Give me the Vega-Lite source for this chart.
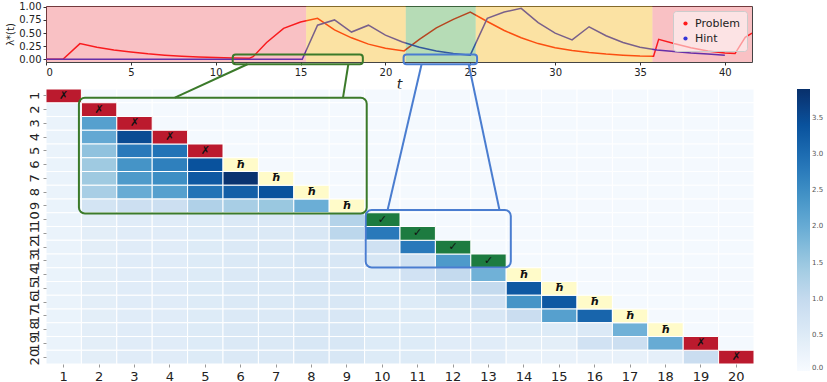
{
"$schema": "https://vega.github.io/schema/vega-lite/v6.json",
"padding": {"left": 5, "top": 1, "right": 2, "bottom": 2},
"config": {"font": "DejaVu Sans", "view": {"stroke": null}},
"spacing": 27,
"bounds": "flush",
"resolve": {"scale": {"x": "independent", "y": "independent", "color": "independent", "stroke": "independent"}, "legend": {"color": "independent", "stroke": "independent"}},
"datasets": {
"lines": [
{"s":"Problem","t":0,"v":0},{"s":"Problem","t":1,"v":0},{"s":"Problem","t":2,"v":0.30},{"s":"Problem","t":3,"v":0.23},{"s":"Problem","t":4,"v":0.18},{"s":"Problem","t":5,"v":0.14},{"s":"Problem","t":6,"v":0.105},{"s":"Problem","t":7,"v":0.08},{"s":"Problem","t":8,"v":0.06},{"s":"Problem","t":9,"v":0.045},{"s":"Problem","t":10,"v":0.035},{"s":"Problem","t":11,"v":0.028},{"s":"Problem","t":12,"v":0.022},{"s":"Problem","t":12.2,"v":0.05},{"s":"Problem","t":13,"v":0.32},{"s":"Problem","t":14,"v":0.59},{"s":"Problem","t":15,"v":0.71},{"s":"Problem","t":16,"v":0.78},{"s":"Problem","t":17,"v":0.56},{"s":"Problem","t":18,"v":0.41},{"s":"Problem","t":19,"v":0.29},{"s":"Problem","t":20,"v":0.21},{"s":"Problem","t":21.1,"v":0.16},{"s":"Problem","t":22,"v":0.38},{"s":"Problem","t":23,"v":0.6},{"s":"Problem","t":24,"v":0.76},{"s":"Problem","t":25,"v":0.9},{"s":"Problem","t":26,"v":0.72},{"s":"Problem","t":27,"v":0.55},{"s":"Problem","t":28,"v":0.41},{"s":"Problem","t":29,"v":0.3},{"s":"Problem","t":30,"v":0.22},{"s":"Problem","t":31,"v":0.17},{"s":"Problem","t":32,"v":0.13},{"s":"Problem","t":33,"v":0.1},{"s":"Problem","t":34,"v":0.08},{"s":"Problem","t":35,"v":0.065},{"s":"Problem","t":35.8,"v":0.06},{"s":"Problem","t":36.1,"v":0.38},{"s":"Problem","t":37,"v":0.3},{"s":"Problem","t":38,"v":0.22},{"s":"Problem","t":39,"v":0.16},{"s":"Problem","t":40,"v":0.12},{"s":"Problem","t":40.6,"v":0.11},{"s":"Problem","t":41.2,"v":0.42},{"s":"Problem","t":41.6,"v":0.5},
{"s":"Hint","t":0,"v":0},{"s":"Hint","t":15.1,"v":0},{"s":"Hint","t":16,"v":0.65},{"s":"Hint","t":17,"v":0.75},{"s":"Hint","t":18,"v":0.52},{"s":"Hint","t":19,"v":0.65},{"s":"Hint","t":20,"v":0.46},{"s":"Hint","t":21,"v":0.33},{"s":"Hint","t":22,"v":0.23},{"s":"Hint","t":23,"v":0.16},{"s":"Hint","t":24,"v":0.11},{"s":"Hint","t":25,"v":0.08},{"s":"Hint","t":26,"v":0.78},{"s":"Hint","t":27,"v":0.9},{"s":"Hint","t":28,"v":0.97},{"s":"Hint","t":29,"v":0.7},{"s":"Hint","t":30,"v":0.5},{"s":"Hint","t":31,"v":0.37},{"s":"Hint","t":32,"v":0.62},{"s":"Hint","t":33,"v":0.45},{"s":"Hint","t":34,"v":0.32},{"s":"Hint","t":35,"v":0.23},{"s":"Hint","t":36,"v":0.18},{"s":"Hint","t":37,"v":0.15},{"s":"Hint","t":38,"v":0.12},{"s":"Hint","t":39,"v":0.1},{"s":"Hint","t":40,"v":0.08}
],
"events": [
{"s":"Problem","t":1},{"s":"Problem","t":12.2},{"s":"Problem","t":13.9},{"s":"Problem","t":14.2},{"s":"Problem","t":15.0},{"s":"Problem","t":21.2},{"s":"Problem","t":22.4},{"s":"Problem","t":23.6},{"s":"Problem","t":24.9},{"s":"Problem","t":35.8},{"s":"Problem","t":40.6},
{"s":"Hint","t":15.35},{"s":"Hint","t":15.5},{"s":"Hint","t":16.0},{"s":"Hint","t":18.0},{"s":"Hint","t":26.05},{"s":"Hint","t":26.7},{"s":"Hint","t":27.5},{"s":"Hint","t":31.9}
],
"spans": [
{"a":0,"b":15.33,"k":"r"},{"a":15.33,"b":21.2,"k":"y"},{"a":21.2,"b":25.32,"k":"g"},{"a":25.32,"b":35.73,"k":"y"},{"a":35.73,"b":41.6,"k":"r"}
],
"tboxes": [
{"a":11.0,"b":18.67,"lo":-0.095,"hi":0.095,"k":"g"},{"a":21.07,"b":25.4,"lo":-0.095,"hi":0.095,"k":"b"}
],
"hboxes": [
{"x1":1.43,"x2":9.56,"y1":1.13,"y2":9.55,"k":"g"},{"x1":9.53,"x2":13.63,"y1":9.3,"y2":13.48,"k":"b"}
],
"hlinks": [
{"x1":6.19,"y1":-1.3,"x2":4.14,"y2":1.13,"k":"g"},{"x1":9.04,"y1":-1.3,"x2":8.89,"y2":1.13,"k":"g"},{"x1":11.11,"y1":-1.3,"x2":10.15,"y2":9.3,"k":"b"},{"x1":12.44,"y1":-1.3,"x2":13.31,"y2":9.3,"k":"b"}
],
"cells": [
{"r":1,"c":1,"k":"✗"},{"r":1,"c":2,"v":0.05},{"r":1,"c":3,"v":0.05},{"r":1,"c":4,"v":0.05},{"r":1,"c":5,"v":0.05},{"r":1,"c":6,"v":0.05},{"r":1,"c":7,"v":0.05},{"r":1,"c":8,"v":0.05},{"r":1,"c":9,"v":0.05},{"r":1,"c":10,"v":0.05},{"r":1,"c":11,"v":0.05},{"r":1,"c":12,"v":0.05},{"r":1,"c":13,"v":0.05},{"r":1,"c":14,"v":0.05},{"r":1,"c":15,"v":0.05},{"r":1,"c":16,"v":0.05},{"r":1,"c":17,"v":0.05},{"r":1,"c":18,"v":0.05},{"r":1,"c":19,"v":0.05},{"r":1,"c":20,"v":0.05},
{"r":2,"c":1,"v":0.25},{"r":2,"c":2,"k":"✗"},{"r":2,"c":3,"v":0.05},{"r":2,"c":4,"v":0.05},{"r":2,"c":5,"v":0.05},{"r":2,"c":6,"v":0.05},{"r":2,"c":7,"v":0.05},{"r":2,"c":8,"v":0.05},{"r":2,"c":9,"v":0.05},{"r":2,"c":10,"v":0.05},{"r":2,"c":11,"v":0.05},{"r":2,"c":12,"v":0.05},{"r":2,"c":13,"v":0.05},{"r":2,"c":14,"v":0.05},{"r":2,"c":15,"v":0.05},{"r":2,"c":16,"v":0.05},{"r":2,"c":17,"v":0.05},{"r":2,"c":18,"v":0.05},{"r":2,"c":19,"v":0.05},{"r":2,"c":20,"v":0.05},
{"r":3,"c":1,"v":0.25},{"r":3,"c":2,"v":2.2},{"r":3,"c":3,"k":"✗"},{"r":3,"c":4,"v":0.05},{"r":3,"c":5,"v":0.05},{"r":3,"c":6,"v":0.05},{"r":3,"c":7,"v":0.05},{"r":3,"c":8,"v":0.05},{"r":3,"c":9,"v":0.05},{"r":3,"c":10,"v":0.05},{"r":3,"c":11,"v":0.05},{"r":3,"c":12,"v":0.05},{"r":3,"c":13,"v":0.05},{"r":3,"c":14,"v":0.05},{"r":3,"c":15,"v":0.05},{"r":3,"c":16,"v":0.05},{"r":3,"c":17,"v":0.05},{"r":3,"c":18,"v":0.05},{"r":3,"c":19,"v":0.05},{"r":3,"c":20,"v":0.05},
{"r":4,"c":1,"v":0.25},{"r":4,"c":2,"v":2.05},{"r":4,"c":3,"v":3.5},{"r":4,"c":4,"k":"✗"},{"r":4,"c":5,"v":0.05},{"r":4,"c":6,"v":0.05},{"r":4,"c":7,"v":0.05},{"r":4,"c":8,"v":0.05},{"r":4,"c":9,"v":0.05},{"r":4,"c":10,"v":0.05},{"r":4,"c":11,"v":0.05},{"r":4,"c":12,"v":0.05},{"r":4,"c":13,"v":0.05},{"r":4,"c":14,"v":0.05},{"r":4,"c":15,"v":0.05},{"r":4,"c":16,"v":0.05},{"r":4,"c":17,"v":0.05},{"r":4,"c":18,"v":0.05},{"r":4,"c":19,"v":0.05},{"r":4,"c":20,"v":0.05},
{"r":5,"c":1,"v":0.25},{"r":5,"c":2,"v":1.6},{"r":5,"c":3,"v":2.8},{"r":5,"c":4,"v":2.9},{"r":5,"c":5,"k":"✗"},{"r":5,"c":6,"v":0.05},{"r":5,"c":7,"v":0.05},{"r":5,"c":8,"v":0.05},{"r":5,"c":9,"v":0.05},{"r":5,"c":10,"v":0.05},{"r":5,"c":11,"v":0.05},{"r":5,"c":12,"v":0.05},{"r":5,"c":13,"v":0.05},{"r":5,"c":14,"v":0.05},{"r":5,"c":15,"v":0.05},{"r":5,"c":16,"v":0.05},{"r":5,"c":17,"v":0.05},{"r":5,"c":18,"v":0.05},{"r":5,"c":19,"v":0.05},{"r":5,"c":20,"v":0.05},
{"r":6,"c":1,"v":0.25},{"r":6,"c":2,"v":1.45},{"r":6,"c":3,"v":2.4},{"r":6,"c":4,"v":2.7},{"r":6,"c":5,"v":3.4},{"r":6,"c":6,"k":"ħ"},{"r":6,"c":7,"v":0.05},{"r":6,"c":8,"v":0.05},{"r":6,"c":9,"v":0.05},{"r":6,"c":10,"v":0.05},{"r":6,"c":11,"v":0.05},{"r":6,"c":12,"v":0.05},{"r":6,"c":13,"v":0.05},{"r":6,"c":14,"v":0.05},{"r":6,"c":15,"v":0.05},{"r":6,"c":16,"v":0.05},{"r":6,"c":17,"v":0.05},{"r":6,"c":18,"v":0.05},{"r":6,"c":19,"v":0.05},{"r":6,"c":20,"v":0.05},
{"r":7,"c":1,"v":0.25},{"r":7,"c":2,"v":1.45},{"r":7,"c":3,"v":2.3},{"r":7,"c":4,"v":2.5},{"r":7,"c":5,"v":3.3},{"r":7,"c":6,"v":3.85},{"r":7,"c":7,"k":"ħ"},{"r":7,"c":8,"v":0.05},{"r":7,"c":9,"v":0.05},{"r":7,"c":10,"v":0.05},{"r":7,"c":11,"v":0.05},{"r":7,"c":12,"v":0.05},{"r":7,"c":13,"v":0.05},{"r":7,"c":14,"v":0.05},{"r":7,"c":15,"v":0.05},{"r":7,"c":16,"v":0.05},{"r":7,"c":17,"v":0.05},{"r":7,"c":18,"v":0.05},{"r":7,"c":19,"v":0.05},{"r":7,"c":20,"v":0.05},
{"r":8,"c":1,"v":0.25},{"r":8,"c":2,"v":1.35},{"r":8,"c":3,"v":2.0},{"r":8,"c":4,"v":2.2},{"r":8,"c":5,"v":2.9},{"r":8,"c":6,"v":3.2},{"r":8,"c":7,"v":3.4},{"r":8,"c":8,"k":"ħ"},{"r":8,"c":9,"v":0.05},{"r":8,"c":10,"v":0.05},{"r":8,"c":11,"v":0.05},{"r":8,"c":12,"v":0.05},{"r":8,"c":13,"v":0.05},{"r":8,"c":14,"v":0.05},{"r":8,"c":15,"v":0.05},{"r":8,"c":16,"v":0.05},{"r":8,"c":17,"v":0.05},{"r":8,"c":18,"v":0.05},{"r":8,"c":19,"v":0.05},{"r":8,"c":20,"v":0.05},
{"r":9,"c":1,"v":0.25},{"r":9,"c":2,"v":0.7},{"r":9,"c":3,"v":0.85},{"r":9,"c":4,"v":0.85},{"r":9,"c":5,"v":1.25},{"r":9,"c":6,"v":1.35},{"r":9,"c":7,"v":1.5},{"r":9,"c":8,"v":1.95},{"r":9,"c":9,"k":"ħ"},{"r":9,"c":10,"v":0.05},{"r":9,"c":11,"v":0.05},{"r":9,"c":12,"v":0.05},{"r":9,"c":13,"v":0.05},{"r":9,"c":14,"v":0.05},{"r":9,"c":15,"v":0.05},{"r":9,"c":16,"v":0.05},{"r":9,"c":17,"v":0.05},{"r":9,"c":18,"v":0.05},{"r":9,"c":19,"v":0.05},{"r":9,"c":20,"v":0.05},
{"r":10,"c":1,"v":0.25},{"r":10,"c":2,"v":0.4},{"r":10,"c":3,"v":0.45},{"r":10,"c":4,"v":0.45},{"r":10,"c":5,"v":0.5},{"r":10,"c":6,"v":0.55},{"r":10,"c":7,"v":0.55},{"r":10,"c":8,"v":0.6},{"r":10,"c":9,"v":1.2},{"r":10,"c":10,"k":"✓"},{"r":10,"c":11,"v":0.05},{"r":10,"c":12,"v":0.05},{"r":10,"c":13,"v":0.05},{"r":10,"c":14,"v":0.05},{"r":10,"c":15,"v":0.05},{"r":10,"c":16,"v":0.05},{"r":10,"c":17,"v":0.05},{"r":10,"c":18,"v":0.05},{"r":10,"c":19,"v":0.05},{"r":10,"c":20,"v":0.05},
{"r":11,"c":1,"v":0.25},{"r":11,"c":2,"v":0.4},{"r":11,"c":3,"v":0.45},{"r":11,"c":4,"v":0.45},{"r":11,"c":5,"v":0.5},{"r":11,"c":6,"v":0.55},{"r":11,"c":7,"v":0.55},{"r":11,"c":8,"v":0.6},{"r":11,"c":9,"v":1.1},{"r":11,"c":10,"v":2.8},{"r":11,"c":11,"k":"✓"},{"r":11,"c":12,"v":0.05},{"r":11,"c":13,"v":0.05},{"r":11,"c":14,"v":0.05},{"r":11,"c":15,"v":0.05},{"r":11,"c":16,"v":0.05},{"r":11,"c":17,"v":0.05},{"r":11,"c":18,"v":0.05},{"r":11,"c":19,"v":0.05},{"r":11,"c":20,"v":0.05},
{"r":12,"c":1,"v":0.25},{"r":12,"c":2,"v":0.4},{"r":12,"c":3,"v":0.45},{"r":12,"c":4,"v":0.45},{"r":12,"c":5,"v":0.5},{"r":12,"c":6,"v":0.55},{"r":12,"c":7,"v":0.55},{"r":12,"c":8,"v":0.6},{"r":12,"c":9,"v":0.6},{"r":12,"c":10,"v":0.8},{"r":12,"c":11,"v":2.8},{"r":12,"c":12,"k":"✓"},{"r":12,"c":13,"v":0.05},{"r":12,"c":14,"v":0.05},{"r":12,"c":15,"v":0.05},{"r":12,"c":16,"v":0.05},{"r":12,"c":17,"v":0.05},{"r":12,"c":18,"v":0.05},{"r":12,"c":19,"v":0.05},{"r":12,"c":20,"v":0.05},
{"r":13,"c":1,"v":0.25},{"r":13,"c":2,"v":0.4},{"r":13,"c":3,"v":0.45},{"r":13,"c":4,"v":0.45},{"r":13,"c":5,"v":0.5},{"r":13,"c":6,"v":0.55},{"r":13,"c":7,"v":0.55},{"r":13,"c":8,"v":0.6},{"r":13,"c":9,"v":0.6},{"r":13,"c":10,"v":0.65},{"r":13,"c":11,"v":0.8},{"r":13,"c":12,"v":2.3},{"r":13,"c":13,"k":"✓"},{"r":13,"c":14,"v":0.05},{"r":13,"c":15,"v":0.05},{"r":13,"c":16,"v":0.05},{"r":13,"c":17,"v":0.05},{"r":13,"c":18,"v":0.05},{"r":13,"c":19,"v":0.05},{"r":13,"c":20,"v":0.05},
{"r":14,"c":1,"v":0.25},{"r":14,"c":2,"v":0.4},{"r":14,"c":3,"v":0.45},{"r":14,"c":4,"v":0.45},{"r":14,"c":5,"v":0.5},{"r":14,"c":6,"v":0.55},{"r":14,"c":7,"v":0.55},{"r":14,"c":8,"v":0.6},{"r":14,"c":9,"v":0.6},{"r":14,"c":10,"v":0.5},{"r":14,"c":11,"v":0.75},{"r":14,"c":12,"v":1.0},{"r":14,"c":13,"v":1.9},{"r":14,"c":14,"k":"ħ"},{"r":14,"c":15,"v":0.05},{"r":14,"c":16,"v":0.05},{"r":14,"c":17,"v":0.05},{"r":14,"c":18,"v":0.05},{"r":14,"c":19,"v":0.05},{"r":14,"c":20,"v":0.05},
{"r":15,"c":1,"v":0.25},{"r":15,"c":2,"v":0.4},{"r":15,"c":3,"v":0.45},{"r":15,"c":4,"v":0.45},{"r":15,"c":5,"v":0.5},{"r":15,"c":6,"v":0.55},{"r":15,"c":7,"v":0.55},{"r":15,"c":8,"v":0.6},{"r":15,"c":9,"v":0.6},{"r":15,"c":10,"v":0.5},{"r":15,"c":11,"v":0.6},{"r":15,"c":12,"v":0.8},{"r":15,"c":13,"v":1.0},{"r":15,"c":14,"v":3.3},{"r":15,"c":15,"k":"ħ"},{"r":15,"c":16,"v":0.05},{"r":15,"c":17,"v":0.05},{"r":15,"c":18,"v":0.05},{"r":15,"c":19,"v":0.05},{"r":15,"c":20,"v":0.05},
{"r":16,"c":1,"v":0.25},{"r":16,"c":2,"v":0.4},{"r":16,"c":3,"v":0.45},{"r":16,"c":4,"v":0.45},{"r":16,"c":5,"v":0.5},{"r":16,"c":6,"v":0.55},{"r":16,"c":7,"v":0.55},{"r":16,"c":8,"v":0.6},{"r":16,"c":9,"v":0.6},{"r":16,"c":10,"v":0.5},{"r":16,"c":11,"v":0.5},{"r":16,"c":12,"v":0.65},{"r":16,"c":13,"v":0.75},{"r":16,"c":14,"v":2.4},{"r":16,"c":15,"v":3.3},{"r":16,"c":16,"k":"ħ"},{"r":16,"c":17,"v":0.05},{"r":16,"c":18,"v":0.05},{"r":16,"c":19,"v":0.05},{"r":16,"c":20,"v":0.05},
{"r":17,"c":1,"v":0.25},{"r":17,"c":2,"v":0.4},{"r":17,"c":3,"v":0.45},{"r":17,"c":4,"v":0.45},{"r":17,"c":5,"v":0.5},{"r":17,"c":6,"v":0.55},{"r":17,"c":7,"v":0.55},{"r":17,"c":8,"v":0.6},{"r":17,"c":9,"v":0.6},{"r":17,"c":10,"v":0.5},{"r":17,"c":11,"v":0.5},{"r":17,"c":12,"v":0.45},{"r":17,"c":13,"v":0.6},{"r":17,"c":14,"v":0.9},{"r":17,"c":15,"v":2.2},{"r":17,"c":16,"v":3.1},{"r":17,"c":17,"k":"ħ"},{"r":17,"c":18,"v":0.05},{"r":17,"c":19,"v":0.05},{"r":17,"c":20,"v":0.05},
{"r":18,"c":1,"v":0.25},{"r":18,"c":2,"v":0.4},{"r":18,"c":3,"v":0.45},{"r":18,"c":4,"v":0.45},{"r":18,"c":5,"v":0.5},{"r":18,"c":6,"v":0.55},{"r":18,"c":7,"v":0.55},{"r":18,"c":8,"v":0.6},{"r":18,"c":9,"v":0.6},{"r":18,"c":10,"v":0.5},{"r":18,"c":11,"v":0.5},{"r":18,"c":12,"v":0.45},{"r":18,"c":13,"v":0.45},{"r":18,"c":14,"v":0.5},{"r":18,"c":15,"v":0.5},{"r":18,"c":16,"v":0.55},{"r":18,"c":17,"v":1.9},{"r":18,"c":18,"k":"ħ"},{"r":18,"c":19,"v":0.05},{"r":18,"c":20,"v":0.05},
{"r":19,"c":1,"v":0.25},{"r":19,"c":2,"v":0.4},{"r":19,"c":3,"v":0.45},{"r":19,"c":4,"v":0.45},{"r":19,"c":5,"v":0.5},{"r":19,"c":6,"v":0.55},{"r":19,"c":7,"v":0.55},{"r":19,"c":8,"v":0.6},{"r":19,"c":9,"v":0.6},{"r":19,"c":10,"v":0.5},{"r":19,"c":11,"v":0.5},{"r":19,"c":12,"v":0.45},{"r":19,"c":13,"v":0.45},{"r":19,"c":14,"v":0.4},{"r":19,"c":15,"v":0.4},{"r":19,"c":16,"v":0.75},{"r":19,"c":17,"v":0.85},{"r":19,"c":18,"v":2.0},{"r":19,"c":19,"k":"✗"},{"r":19,"c":20,"v":0.05},
{"r":20,"c":1,"v":0.25},{"r":20,"c":2,"v":0.4},{"r":20,"c":3,"v":0.45},{"r":20,"c":4,"v":0.45},{"r":20,"c":5,"v":0.5},{"r":20,"c":6,"v":0.55},{"r":20,"c":7,"v":0.55},{"r":20,"c":8,"v":0.6},{"r":20,"c":9,"v":0.6},{"r":20,"c":10,"v":0.5},{"r":20,"c":11,"v":0.5},{"r":20,"c":12,"v":0.45},{"r":20,"c":13,"v":0.45},{"r":20,"c":14,"v":0.3},{"r":20,"c":15,"v":0.3},{"r":20,"c":16,"v":0.3},{"r":20,"c":17,"v":0.3},{"r":20,"c":18,"v":0.35},{"r":20,"c":19,"v":0.9},{"r":20,"c":20,"k":"✗"}
]
},
"vconcat": [
{
"width": 706, "height": 56,
"view": {"stroke": "#444", "strokeWidth": 1},
"encoding": {
"x": {"field": "t", "type": "quantitative", "scale": {"domain": [0, 41.6], "nice": false, "zero": false},
"axis": {"values": [0,5,10,15,20,25,30,35,40], "format": "d", "labelFontSize": 10, "labelColor": "#222", "tickSize": 3, "tickColor": "#333", "domain": false, "grid": false, "title": "t", "titleFontStyle": "italic", "titleFontWeight": "normal", "titleFontSize": 14, "titlePadding": 0, "titleColor": "#222"}},
"y": {"field": "v", "type": "quantitative", "scale": {"domain": [-0.05, 1.015], "nice": false, "zero": false},
"axis": {"values": [0,0.25,0.5,0.75,1], "format": ".2f", "labelFontSize": 10, "labelColor": "#222", "tickSize": 3, "tickColor": "#333", "domain": false, "grid": false, "title": "λ*(t)", "titleFontSize": 10, "titleFontWeight": "normal", "titlePadding": 3, "titleColor": "#222"}}
},
"layer": [
{"data": {"name": "lines"}, "transform": [{"filter": "datum.s == 'Problem'"}], "mark": {"type": "line", "strokeWidth": 1.5, "clip": true, "color": "#ff1a1a"}},
{"data": {"name": "lines"}, "transform": [{"filter": "datum.s == 'Hint'"}], "mark": {"type": "line", "strokeWidth": 1.5, "clip": true, "color": "#3535d8"}},
{"data": {"name": "events"}, "mark": {"type": "point", "filled": true, "size": 10, "opacity": 1},
 "encoding": {"y": {"datum": 0}, "color": {"field": "s", "type": "nominal", "scale": {"domain": ["Problem","Hint"], "range": ["#ff1a1a","#3535d8"]},
  "legend": {"orient": "top-right", "title": null, "fillColor": "rgba(255,255,255,0.55)", "strokeColor": "#cccccc", "padding": 7, "cornerRadius": 3, "offset": 5, "labelFontSize": 11, "labelColor": "#222", "symbolSize": 18, "symbolType": "circle", "rowPadding": 3}}}},
{"data": {"name": "spans"}, "transform": [{"filter": "datum.k == 'r'"}], "mark": {"type": "rect", "color": "#e8202a", "opacity": 0.28},
 "encoding": {"x": {"field": "a", "type": "quantitative"}, "x2": {"field": "b"}, "y": null}},
{"data": {"name": "spans"}, "transform": [{"filter": "datum.k == 'y'"}], "mark": {"type": "rect", "color": "#f4b000", "opacity": 0.36},
 "encoding": {"x": {"field": "a", "type": "quantitative"}, "x2": {"field": "b"}, "y": null}},
{"data": {"name": "spans"}, "transform": [{"filter": "datum.k == 'g'"}], "mark": {"type": "rect", "color": "#2e9a2e", "opacity": 0.35},
 "encoding": {"x": {"field": "a", "type": "quantitative"}, "x2": {"field": "b"}, "y": null}},
{"data": {"name": "tboxes"}, "transform": [{"filter": "datum.k == 'g'"}], "mark": {"type": "rect", "fillOpacity": 0, "stroke": "#3b7a2a", "strokeWidth": 2, "cornerRadius": 3, "clip": false},
 "encoding": {"x": {"field": "a", "type": "quantitative"}, "x2": {"field": "b"}, "y": {"field": "lo", "type": "quantitative"}, "y2": {"field": "hi"}}},
{"data": {"name": "tboxes"}, "transform": [{"filter": "datum.k == 'b'"}], "mark": {"type": "rect", "fillOpacity": 0, "stroke": "#4a7dd0", "strokeWidth": 2, "cornerRadius": 3, "clip": false},
 "encoding": {"x": {"field": "a", "type": "quantitative"}, "x2": {"field": "b"}, "y": {"field": "lo", "type": "quantitative"}, "y2": {"field": "hi"}}}
]
},
{
"width": 708, "height": 275,
"layer": [
{
"data": {"name": "cells"},
"encoding": {
"x": {"field": "c", "type": "ordinal", "scale": {"domain": [1,2,3,4,5,6,7,8,9,10,11,12,13,14,15,16,17,18,19,20], "paddingInner": 0, "paddingOuter": 0},
 "axis": {"labelAngle": 0, "labelFontSize": 13, "labelColor": "#222", "title": null, "domain": false, "tickSize": 3, "tickColor": "#999", "labelPadding": 3}},
"y": {"field": "r", "type": "ordinal", "scale": {"domain": [1,2,3,4,5,6,7,8,9,10,11,12,13,14,15,16,17,18,19,20], "paddingInner": 0, "paddingOuter": 0},
 "axis": {"labelAngle": 270, "labelAlign": "center", "labelBaseline": "bottom", "labelFontSize": 13, "labelColor": "#222", "title": null, "domain": false, "tickSize": 3, "tickColor": "#999", "labelPadding": 2}}
},
"layer": [
{"transform": [{"filter": "datum.v != null"}], "mark": {"type": "rect", "stroke": "white", "strokeWidth": 1},
 "encoding": {"color": {"field": "v", "type": "quantitative",
  "scale": {"domain": [0,0.4875,0.975,1.4625,1.95,2.4375,2.925,3.4125,3.9], "range": ["#f7fbff","#deebf7","#c6dbef","#9ecae1","#6baed6","#4292c6","#2171b5","#08519c","#08306b"]},
  "legend": {"orient": "right", "offset": 43, "gradientLength": 282, "gradientThickness": 13, "title": null, "values": [0,0.5,1,1.5,2,2.5,3,3.5], "format": ".1f", "labelFontSize": 7, "labelColor": "#555", "gradientStrokeWidth": 0}}}},
{"transform": [{"filter": "datum.k != null"}], "mark": {"type": "rect", "stroke": "white", "strokeWidth": 1},
 "encoding": {"color": {"field": "k", "type": "nominal", "scale": {"domain": ["✗","ħ","✓"], "range": ["#bb1a2e","#fffbc9","#1d7b40"]}, "legend": null}}},
{"transform": [{"filter": "datum.k != null"}], "mark": {"type": "text", "fontSize": 11, "fontWeight": "bold", "fontStyle": "italic", "color": "#111"},
 "encoding": {"text": {"field": "k"}}}
],
"resolve": {"scale": {"color": "independent"}}
},
{
"encoding": {
"x": {"field": "x1", "type": "quantitative", "scale": {"domain": [0.5, 20.5], "nice": false, "zero": false}, "axis": null},
"y": {"field": "y1", "type": "quantitative", "scale": {"domain": [0.5, 20.5], "nice": false, "zero": false, "reverse": true}, "axis": null},
"x2": {"field": "x2"}, "y2": {"field": "y2"}
},
"layer": [
{"data": {"name": "hboxes"}, "transform": [{"filter": "datum.k == 'g'"}], "mark": {"type": "rect", "fillOpacity": 0, "stroke": "#3b7a2a", "strokeWidth": 2, "cornerRadius": 6, "clip": false}},
{"data": {"name": "hboxes"}, "transform": [{"filter": "datum.k == 'b'"}], "mark": {"type": "rect", "fillOpacity": 0, "stroke": "#4a7dd0", "strokeWidth": 2, "cornerRadius": 6, "clip": false}},
{"data": {"name": "hlinks"}, "transform": [{"filter": "datum.k == 'g'"}], "mark": {"type": "rule", "stroke": "#3b7a2a", "strokeWidth": 2, "clip": false}},
{"data": {"name": "hlinks"}, "transform": [{"filter": "datum.k == 'b'"}], "mark": {"type": "rule", "stroke": "#4a7dd0", "strokeWidth": 2, "clip": false}}
]
}
],
"resolve": {"scale": {"x": "independent", "y": "independent"}}
}
]
}
